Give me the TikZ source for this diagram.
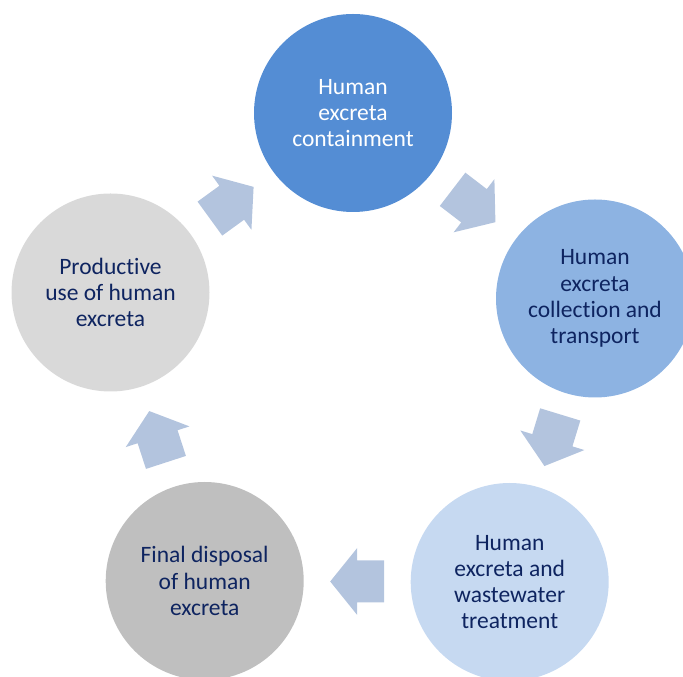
\documentclass[tikz,border=0pt]{standalone}
\usepackage{fontspec}
\setmainfont{Carlito}[Ligatures={NoCommon}]
\usetikzlibrary{calc}
\definecolor{cA}{RGB}{84,141,212}
\definecolor{cB}{RGB}{141,179,226}
\definecolor{cC}{RGB}{198,217,241}
\definecolor{cD}{RGB}{191,191,191}
\definecolor{cE}{RGB}{217,217,217}
\definecolor{arrfill}{RGB}{179,196,222}
\definecolor{navy}{RGB}{14,36,96}
\begin{document}
\begin{tikzpicture}[x=1pt,y=1pt,
  stage/.style={circle, minimum size=198pt, inner sep=0pt, align=center,
    font=\fontsize{23.5}{26.2}\selectfont, text=navy},
  cyclearrow/.pic={\fill[arrfill] (27,0)--(0,33.5)--(0,21)--(-27,21)--(-27,-21)--(0,-21)--(0,-33.5)--cycle;}]
\useasboundingbox (0,0) rectangle (683,677);
\clip (0,0) rectangle (683,677);
\node[stage, fill=cA, text=white] (T) at (353,564) {Human\\excreta\\containment};
\node[stage, fill=cB] (R) at (595,378.5) {Human\\excreta\\collection and\\transport};
\node[stage, fill=cC] (BR) at (509.7,95) {Human\\excreta and\\wastewater\\treatment};
\node[stage, fill=cD] (BL) at (204.7,96) {Final disposal\\of human\\excreta};
\node[stage, fill=cE] (L) at (110.5,384.5) {Productive\\use of human\\excreta};
\pic[rotate=36] at ($(L)!0.5!(T)$) {cyclearrow};
\pic[rotate=-37.5] at ($(T)!0.5!(R)$) {cyclearrow};
\pic[rotate=-107] at ($(R)!0.5!(BR)$) {cyclearrow};
\pic[rotate=180] at ($(BR)!0.5!(BL)$) {cyclearrow};
\pic[rotate=108] at ($(BL)!0.5!(L)$) {cyclearrow};
\end{tikzpicture}
\end{document}
